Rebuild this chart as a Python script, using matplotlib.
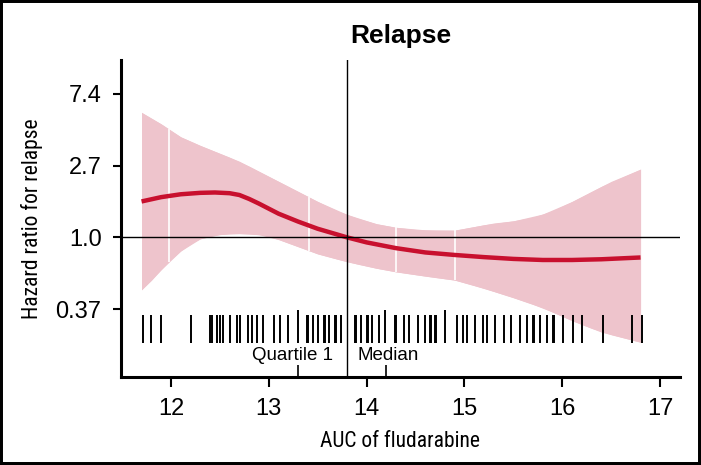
import numpy as np
import matplotlib
matplotlib.use("Agg")
import matplotlib.pyplot as plt
from matplotlib.patches import Rectangle
from matplotlib import font_manager

# ---- data (log hazard ratio scale) ----
curve_x = [11.7, 11.9, 12.1, 12.3, 12.45, 12.6, 12.7, 12.8, 12.9, 13.1, 13.3, 13.5, 13.7, 13.8,
           14.0, 14.3, 14.6, 14.9, 15.2, 15.5, 15.8, 16.1, 16.4, 16.8]
curve_y = [0.50, 0.56, 0.60, 0.62, 0.625, 0.615, 0.59, 0.535, 0.47, 0.33, 0.22, 0.12, 0.04, 0.0,
           -0.07, -0.15, -0.21, -0.245, -0.275, -0.30, -0.315, -0.315, -0.305, -0.28]

upper_x = [11.7, 11.9, 12.1, 12.3, 12.5, 12.7, 12.9, 13.1, 13.3, 13.5, 13.7, 13.9, 14.1,
           14.3, 14.5, 14.7, 14.9, 15.1, 15.3, 15.5, 15.7, 15.9, 16.1, 16.3, 16.5, 16.8]
upper_y = [1.74, 1.58, 1.40, 1.28, 1.17, 1.06, 0.92, 0.78, 0.64, 0.50, 0.37, 0.27, 0.19,
           0.14, 0.11, 0.10, 0.10, 0.15, 0.20, 0.23, 0.28, 0.37, 0.50, 0.64, 0.78, 0.95]

lower_x = [11.7, 11.8, 11.9, 12.0, 12.1, 12.2, 12.3, 12.45, 12.6, 12.8, 12.95, 13.1, 13.3,
           13.5, 13.8, 14.1, 14.3, 14.6, 14.9, 15.2, 15.5, 15.8, 16.1, 16.4, 16.8]
lower_y = [-0.73, -0.60, -0.45, -0.31, -0.19, -0.09, -0.02, 0.03, 0.055, 0.05, 0.03, -0.03, -0.13,
           -0.23, -0.34, -0.43, -0.48, -0.54, -0.595, -0.71, -0.84, -0.98, -1.16, -1.32, -1.46]

knots = [11.98, 13.41, 14.30, 14.90]

rug_x = [11.71, 11.80, 11.90, 12.21, 12.40, 12.42, 12.47, 12.50, 12.53, 12.60, 12.68, 12.71,
         12.79, 12.83, 12.88, 12.94, 13.05, 13.11, 13.20, 13.39, 13.40, 13.45, 13.50,
         13.56, 13.57, 13.62, 13.68, 13.69, 13.74, 13.88, 13.89, 13.94, 14.00, 14.01, 14.06,
         14.13, 14.29, 14.30, 14.38, 14.43, 14.53, 14.60, 14.65, 14.66, 14.70, 14.71,
         14.92, 14.99, 15.03, 15.11, 15.19, 15.23, 15.31, 15.40, 15.48, 15.57, 15.64,
         15.70, 15.71, 15.77, 15.84, 15.91, 15.92, 16.01, 16.11, 16.20, 16.42, 16.71, 16.81]
rug_tall_x = [13.30, 14.19, 14.80]

ytick_vals = [-1, 0, 1, 2]
ytick_labels = ["0.37", "1.0", "2.7", "7.4"]
xtick_vals = [12, 13, 14, 15, 16, 17]
quartile_ticks = [13.3, 14.2]
median_x = 13.8

# condensed font for axis labels
names = {f.name for f in font_manager.fontManager.ttflist}
cond_props = None
for cand in ["Liberation Sans Narrow", "Roboto Condensed", "Open Sans Condensed",
             "DejaVu Sans Condensed"]:
    if cand in names:
        cond_props = dict(family=cand)
        break
if cond_props is None:
    cond_props = dict(family="DejaVu Sans", stretch="condensed")

# ---- figure ----
fig = plt.figure(figsize=(7.01, 4.65), dpi=100)
ax = fig.add_axes([0.1726, 0.189, 0.797, 0.682])

band_color = "#EEC4CC"
line_color = "#C8102E"

ax.fill_between(upper_x, upper_y, np.interp(upper_x, lower_x, lower_y),
                color=band_color, lw=0, zorder=1)
ax.fill_between(lower_x, np.interp(lower_x, upper_x, upper_y), lower_y,
                color=band_color, lw=0, zorder=1)
for k in knots:
    ax.vlines(k, np.interp(k, lower_x, lower_y), np.interp(k, upper_x, upper_y),
              color="white", lw=1.2, zorder=2)

ax.plot(curve_x, curve_y, color=line_color, lw=3.2, zorder=3, solid_capstyle="butt")

ax.axhline(0, color="black", lw=1.0, zorder=4)
ax.axvline(median_x, color="black", lw=1.0, zorder=4)

ax.vlines(rug_x, -1.47, -1.08, color="black", lw=1.4, zorder=4)
ax.vlines(rug_tall_x, -1.47, -1.01, color="black", lw=1.4, zorder=4)

ax.text(median_x - 0.14, -1.64, "Quartile 1", ha="right", va="center",
        fontsize=13.5, family="Liberation Sans")
ax.text(median_x + 0.11, -1.64, "Median", ha="left", va="center",
        fontsize=13.5, family="Liberation Sans")

ax.set_xlim(11.49, 17.2)
ax.set_ylim(-1.946, 2.47)
ax.set_xticks(xtick_vals)
ax.set_xticklabels([str(v) for v in xtick_vals], family="Liberation Sans", fontsize=17)
ax.set_xticks(quartile_ticks, minor=True)
ax.set_yticks(ytick_vals)
ax.set_yticklabels(ytick_labels, family="Liberation Sans", fontsize=17)
ax.tick_params(axis="x", which="major", direction="out", length=7, width=1.5, pad=8)
ax.tick_params(axis="x", which="minor", direction="in", length=8.5, width=1.2)
ax.tick_params(axis="y", which="major", direction="out", length=6, width=1.5, pad=8)

for s in ["top", "right"]:
    ax.spines[s].set_visible(False)
for s in ["left", "bottom"]:
    ax.spines[s].set_linewidth(2.2)

ax.set_xlabel("AUC of fludarabine", fontsize=15.5, labelpad=8, **cond_props)
ax.set_ylabel("Hazard ratio for relapse", fontsize=15.5, labelpad=9, **cond_props)
ax.set_title("Relapse", family="Liberation Sans", fontweight="bold", fontsize=19, pad=12)

fig.patches.append(Rectangle((0, 0), 1, 1, transform=fig.transFigure, fill=False,
                             edgecolor="black", lw=4.3, zorder=10))

fig.savefig("out.png", dpi=100)
